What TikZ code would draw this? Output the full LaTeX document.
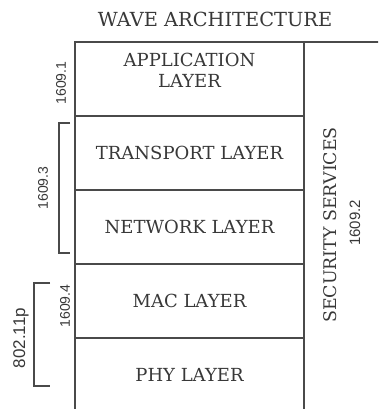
\documentclass[tikz,border=0pt]{standalone}
\usepackage{fontspec}
\usepackage{tikz}
\usetikzlibrary{positioning}
\newfontfamily\layerfont{DejaVu Serif}
\newfontfamily\numfont{Liberation Sans}
\definecolor{WALine}{HTML}{4A4A4A}
\definecolor{WAText}{HTML}{383838}

\begin{document}
\begin{tikzpicture}[
  x=1pt,y=-1pt,
  node distance=0pt,
  layer/.style={draw=WALine,line width=1.3pt,minimum width=229pt,minimum height=74pt,inner sep=0pt,outer sep=0pt,align=center,font=\layerfont\fontsize{18}{21}\selectfont,text=WAText},
  side/.style={font=\layerfont\fontsize{18}{21}\selectfont,text=WAText,inner sep=0pt},
  num/.style={font=\numfont\fontsize{14}{16}\selectfont,text=WAText,rotate=90,inner sep=0pt},
  brk/.style={draw=WALine,line width=1.2pt}
]
\clip (0,0) rectangle (378,409);
\node[side,font=\layerfont\fontsize{19.4}{22}\selectfont] (title) at (215,19) {WAVE ARCHITECTURE};
\node[layer] (app) at (189.5,79) {};
\node[side,align=center] (apptext) at ([yshift=9pt]app.center) {APPLICATION\\LAYER};
\node[layer,below=of app] (trans) {TRANSPORT LAYER};
\node[layer,below=of trans] (net) {NETWORK LAYER};
\node[layer,below=of net] (mac) {MAC LAYER};
\node[layer,below=of mac] (phy) {PHY LAYER};
\node[draw=WALine,line width=1.3pt,minimum width=90pt,minimum height=400pt,anchor=north west,outer sep=0pt] (sec) at (app.north east) {};
\node[side,rotate=90,font=\layerfont\fontsize{17.4}{20}\selectfont] (secname) at (330,225) {SECURITY SERVICES};
\node[num,font=\numfont\fontsize{15}{17}\selectfont] (secnum) at (355,223) {1609.2};
% standards on the left
\node[num] (p1) at (61,83) {1609.1};
\node[num] (p3) at (43,188) {1609.3};
\node[num] (p4) at (65,306) {1609.4};
\node[num,font=\numfont\fontsize{17}{19}\selectfont] (wifi) at (21,338) {802.11p};
\draw[brk] (70,123) -| (59,253) -- (70,253);
\draw[brk] (50,283) -| (34,386) -- (50,386);
\end{tikzpicture}
\end{document}
